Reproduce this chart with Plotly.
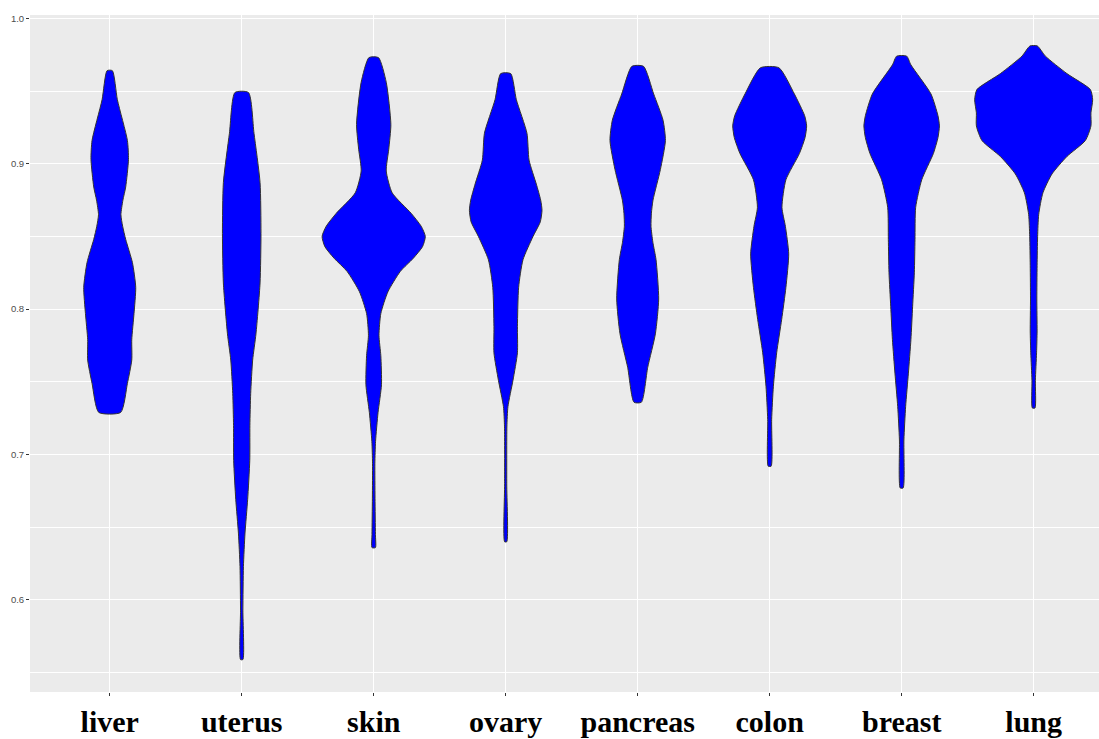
import plotly.graph_objects as go

categories = ["liver", "uterus", "skin", "ovary", "pancreas", "colon", "breast", "lung"]
y_ticks = [0.6, 0.7, 0.8, 0.9, 1.0]
y_minor = [0.55, 0.65, 0.75, 0.85, 0.95]

# violin profiles: value (y) and half-width (in category units), top to bottom
liver_y = [0.964, 0.944, 0.916, 0.903, 0.884, 0.875, 0.865, 0.857, 0.848, 0.832, 0.815, 0.797, 0.779, 0.765, 0.749, 0.729]
liver_w = [0.020, 0.058, 0.134, 0.142, 0.121, 0.100, 0.085, 0.098, 0.121, 0.172, 0.197, 0.184, 0.167, 0.167, 0.134, 0.083]

uterus_y = [0.949, 0.921, 0.887, 0.852, 0.818, 0.783, 0.765, 0.742, 0.720, 0.696, 0.669, 0.646, 0.623, 0.593, 0.559]
uterus_w = [0.051, 0.093, 0.139, 0.146, 0.139, 0.108, 0.083, 0.068, 0.062, 0.061, 0.045, 0.025, 0.013, 0.009, 0.009]

skin_y = [0.973, 0.956, 0.927, 0.910, 0.895, 0.880, 0.866, 0.857, 0.850, 0.843, 0.835, 0.826, 0.812, 0.797, 0.782, 0.768, 0.748, 0.729, 0.709, 0.694, 0.670, 0.645, 0.636]
skin_w = [0.036, 0.095, 0.130, 0.114, 0.095, 0.140, 0.283, 0.360, 0.391, 0.370, 0.300, 0.202, 0.108, 0.054, 0.040, 0.054, 0.059, 0.033, 0.014, 0.009, 0.010, 0.013, 0.013]

ovary_y = [0.962, 0.944, 0.921, 0.9025, 0.886, 0.875, 0.868, 0.860, 0.850, 0.834, 0.815, 0.788, 0.770, 0.751, 0.733, 0.719, 0.680, 0.640]
ovary_w = [0.038, 0.081, 0.161, 0.177, 0.232, 0.265, 0.275, 0.262, 0.207, 0.131, 0.098, 0.089, 0.089, 0.055, 0.017, 0.009, 0.008, 0.008]

pancreas_y = [0.967, 0.948, 0.930, 0.916, 0.896, 0.875, 0.866, 0.857, 0.846, 0.834, 0.807, 0.783, 0.760, 0.736]
pancreas_w = [0.044, 0.121, 0.192, 0.210, 0.172, 0.116, 0.104, 0.101, 0.115, 0.139, 0.159, 0.134, 0.076, 0.028]

colon_y = [0.966, 0.948, 0.933, 0.926, 0.918, 0.907, 0.889, 0.870, 0.857, 0.838, 0.815, 0.793, 0.770, 0.747, 0.724, 0.692]
colon_w = [0.070, 0.187, 0.265, 0.280, 0.268, 0.225, 0.123, 0.093, 0.119, 0.144, 0.123, 0.091, 0.053, 0.028, 0.015, 0.011]

breast_y = [0.974, 0.968, 0.948, 0.933, 0.926, 0.918, 0.907, 0.889, 0.870, 0.848, 0.825, 0.802, 0.779, 0.756, 0.733, 0.710, 0.677]
breast_w = [0.038, 0.070, 0.222, 0.275, 0.286, 0.275, 0.240, 0.152, 0.106, 0.101, 0.096, 0.083, 0.070, 0.051, 0.030, 0.017, 0.011]

lung_y = [0.981, 0.974, 0.962, 0.951, 0.944, 0.935, 0.926, 0.916, 0.905, 0.893, 0.880, 0.865, 0.850, 0.830, 0.807, 0.785, 0.770, 0.751, 0.732]
lung_w = [0.028, 0.089, 0.252, 0.430, 0.447, 0.434, 0.434, 0.392, 0.252, 0.139, 0.070, 0.038, 0.030, 0.026, 0.024, 0.026, 0.022, 0.013, 0.010]

profiles = [
    (liver_y, liver_w), (uterus_y, uterus_w), (skin_y, skin_w), (ovary_y, ovary_w),
    (pancreas_y, pancreas_w), (colon_y, colon_w), (breast_y, breast_w), (lung_y, lung_w),
]

fig = go.Figure()
for i, (ys, ws) in enumerate(profiles):
    c = i + 1
    xs = [c + w for w in ws] + [c - w for w in reversed(ws)] + [c + ws[0]]
    yy = list(ys) + list(reversed(ys)) + [ys[0]]
    fig.add_trace(go.Scatter(
        x=xs, y=yy, mode="lines", fill="toself", fillcolor="#0000FF",
        line=dict(color="#333333", width=1, shape="spline", smoothing=0.6),
        hoverinfo="skip", showlegend=False,
    ))

fig.update_layout(
    width=1099, height=739,
    margin=dict(l=30, r=0, t=15, b=47),
    paper_bgcolor="white", plot_bgcolor="#EBEBEB",
    showlegend=False,
)
fig.update_xaxes(
    tickmode="array", tickvals=list(range(1, len(categories) + 1)), ticktext=categories,
    range=[0.396, 8.495], showgrid=True, gridcolor="white", gridwidth=1.1,
    zeroline=False, ticks="outside", ticklen=3, tickwidth=1, tickcolor="#333333",
    tickfont=dict(family="Liberation Serif", size=30, color="black", weight="bold"),
    automargin=False, showline=False,
)
fig.update_yaxes(
    tickmode="array", tickvals=y_ticks, ticktext=[f"{v:.1f}" for v in y_ticks],
    range=[0.5367, 1.0023], showgrid=True, gridcolor="white", gridwidth=1.1,
    minor=dict(tickmode="array", tickvals=y_minor, showgrid=True, gridcolor="white", gridwidth=0.55),
    zeroline=False, ticks="outside", ticklen=3, tickwidth=1, tickcolor="#333333",
    tickfont=dict(family="Liberation Sans", size=9.5, color="#4D4D4D"),
    automargin=False, showline=False,
)

fig.write_html("out.html")
